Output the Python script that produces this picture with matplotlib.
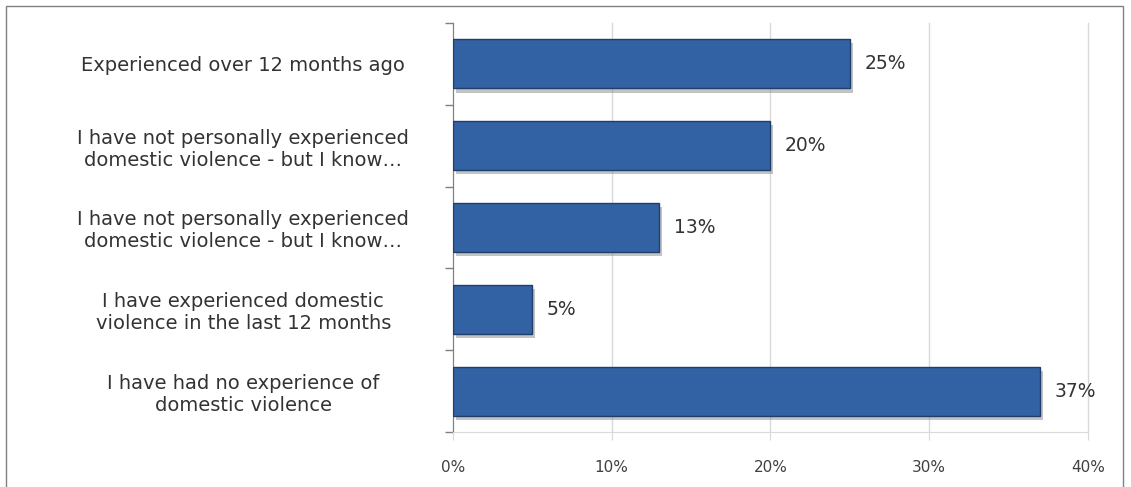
import matplotlib.pyplot as plt
import matplotlib.patheffects as pe
from matplotlib.patches import Rectangle

labels = [
    "Experienced over 12 months ago",
    "I have not personally experienced\ndomestic violence - but I know\u2026",
    "I have not personally experienced\ndomestic violence - but I know\u2026",
    "I have experienced domestic\nviolence in the last 12 months",
    "I have had no experience of\ndomestic violence",
]
values = [25, 20, 13, 5, 37]
xticks = [0, 10, 20, 30, 40]

plt.rcParams["font.family"] = ["DejaVu Sans"]

fig = plt.figure(figsize=(11.31, 4.87), dpi=100)
ax = fig.add_axes([0.4005, 0.113, 0.5615, 0.840])

pos = list(range(len(values)))
bars = ax.barh(pos, values, height=0.6, color="#3262A3", edgecolor="#1E3E6C",
               linewidth=1.0, zorder=3)
for b in bars:
    b.set_path_effects([pe.SimplePatchShadow(offset=(2, -3), shadow_rgbFace="#888888", alpha=0.5),
                        pe.Normal()])

for p, v in zip(pos, values):
    ax.text(v + 0.9, p, f"{v}%", va="center", ha="left", fontsize=13.5, color="#333333")

ax.set_xlim(0, 40)
ax.set_ylim(len(values) - 0.5, -0.5)
ax.set_xticks(xticks)
ax.set_xticklabels([f"{t}%" for t in xticks], fontsize=11, color="#404040")
ax.set_yticks(pos)
ax.set_yticklabels(labels, fontsize=14, color="#333333", ha="center", multialignment="center")
ax.tick_params(axis="y", length=0, pad=151)
ax.set_yticks([i - 0.5 for i in range(len(values) + 1)], minor=True)
ax.tick_params(axis="y", which="minor", length=6, color="#808080", width=1)
ax.tick_params(axis="x", length=6, color="#d9d9d9", pad=14)

ax.grid(axis="x", color="#d9d9d9", linewidth=1, zorder=0)
for line in ax.get_xgridlines():
    line.set_clip_on(False)
ax.set_axisbelow(True)
for s in ["top", "right"]:
    ax.spines[s].set_visible(False)
ax.spines["left"].set_color("#808080")
ax.spines["bottom"].set_color("#d9d9d9")

fig.patches.append(Rectangle((6 / 1131, -0.1), 1117 / 1131, 1.1 - 6 / 487, transform=fig.transFigure,
                             fill=False, edgecolor="#808080", linewidth=1))

fig.savefig("out.png", dpi=100)
